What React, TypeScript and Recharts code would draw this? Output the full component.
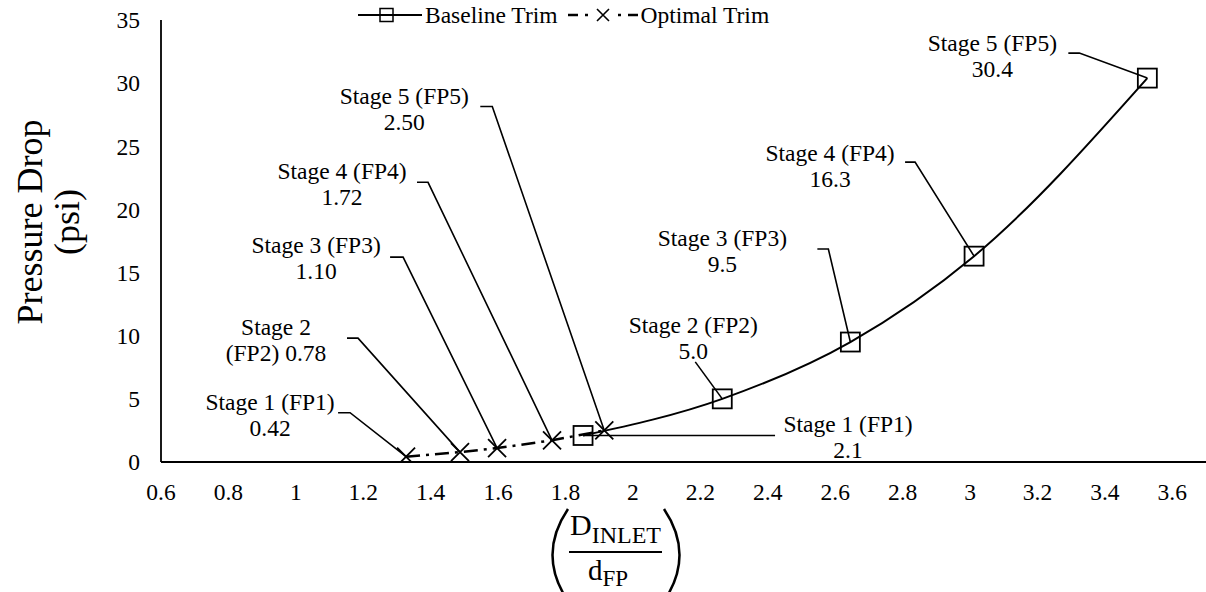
import React from 'react';
import { LineChart, Line, XAxis, YAxis, Legend, LabelList } from 'recharts';

const FONT = '"Liberation Serif", "Times New Roman", serif';

const seriesNames = ['Baseline Trim', 'Optimal Trim'];
const stageNames = ['Stage 1 (FP1)', 'Stage 2 (FP2)', 'Stage 3 (FP3)', 'Stage 4 (FP4)', 'Stage 5 (FP5)'];
const baselineRatio = [1.852, 2.265, 2.645, 3.012, 3.526];
const baselineDrop = [2.1, 5.0, 9.5, 16.3, 30.4];
const optimalRatio = [1.327, 1.487, 1.597, 1.76, 1.915];
const optimalDrop = [0.42, 0.78, 1.1, 1.72, 2.5];
const xTicks = [0.6, 0.8, 1, 1.2, 1.4, 1.6, 1.8, 2, 2.2, 2.4, 2.6, 2.8, 3, 3.2, 3.4, 3.6];
const yTicks = [0, 5, 10, 15, 20, 25, 30, 35];

const baselineData = baselineRatio.map((x, i) => ({ x, y: baselineDrop[i] }));
const optimalData = optimalRatio.map((x, i) => ({ x, y: optimalDrop[i] }));

// callout placement, pixels from the point: text centre, leader start, elbow x
const baselineCallouts = [
  { tx: 265, ty: -12, lx: 192, ly: 0, ex: 192 },
  { tx: -29, ty: -74, lx: -27, ly: -37, ex: -27 },
  { tx: -128, ty: -104, lx: -33, ly: -93, ex: -22 },
  { tx: -144, ty: -103, lx: -69, ly: -94, ex: -59 },
  { tx: -155, ty: -35, lx: -79, ly: -25, ex: -68 },
];
const optimalCallouts = [
  { tx: -136, ty: -55, lx: -68, ly: -44, ex: -56 },
  { tx: -184, ty: -125, lx: -113, ly: -114, ex: -102 },
  { tx: -181, ty: -203, lx: -107, ly: -191, ex: -94 },
  { tx: -210, ty: -270, lx: -135, ly: -258, ex: -124 },
  { tx: -200, ty: -335, lx: -124, ly: -324, ex: -112 },
];

const baselineLines = (i: number) => [stageNames[i], baselineDrop[i].toFixed(1)];
const optimalLines = (i: number) => {
  const v = optimalDrop[i].toFixed(2);
  if (i === 1) {
    const [a, b] = stageNames[i].split(' (');
    return [a, `(${b} ${v}`];
  }
  return [stageNames[i], v];
};

const makeCallout = (layout: any[], values: number[], lines: (i: number) => string[]) => (props: any) => {
  const x = props.x ?? props.viewBox?.x;
  const y = props.y ?? props.viewBox?.y;
  const index = props.index ?? values.indexOf(props.value);
  const c = layout[index];
  if (!c || x == null || y == null) return null;
  const ls = lines(index);
  return (
    <g key={`co-${index}`}>
      <polyline
        points={`${x + c.lx},${y + c.ly} ${x + c.ex},${y + c.ly} ${x},${y}`}
        fill="none"
        stroke="#000"
        strokeWidth={1.6}
      />
      <text x={x + c.tx} y={y + c.ty} textAnchor="middle" fontFamily={FONT} fontSize={23.5} fill="#000">
        {ls.map((t, k) => (
          <tspan key={k} x={x + c.tx} dy={k === 0 ? '0.35em' : 26}>
            {t}
          </tspan>
        ))}
      </text>
    </g>
  );
};

const SquareDot = (props: any) => {
  const { cx, cy, index } = props;
  return (
    <rect key={`sq-${index}`} x={cx - 9.5} y={cy - 9.5} width={19} height={19} fill="none" stroke="#000" strokeWidth={1.8} />
  );
};

const CrossDot = (props: any) => {
  const { cx, cy, index } = props;
  const s = 9;
  return (
    <path
      key={`cr-${index}`}
      d={`M${cx - s},${cy - s}L${cx + s},${cy + s}M${cx - s},${cy + s}L${cx + s},${cy - s}`}
      stroke="#000"
      strokeWidth={1.8}
      fill="none"
    />
  );
};

const YTitle = () => {
  const cy = 222;
  return (
    <g fontFamily={FONT} fill="#000" fontSize={36}>
      <text transform={`rotate(-90 29 ${cy})`} x={29} y={cy} dy="0.35em" textAnchor="middle">
        Pressure Drop
      </text>
      <text transform={`rotate(-90 66 ${cy})`} x={66} y={cy} dy="0.35em" textAnchor="middle">
        (psi)
      </text>
    </g>
  );
};

const XTitle = () => (
  <g fontFamily={FONT} fill="#000">
    <path d="M 568 509 Q 537 555 568 601" fill="none" stroke="#000" strokeWidth={2.5} />
    <text x={570} y={535} fontSize={30}>
      D<tspan fontSize={24} dy={8}>INLET</tspan>
    </text>
    <line x1={569} y1={552} x2={662} y2={552} stroke="#000" strokeWidth={2} />
    <text x={588} y={580} fontSize={29}>
      d<tspan fontSize={23} dy={6}>FP</tspan>
    </text>
    <path d="M 664 509 Q 695 555 664 601" fill="none" stroke="#000" strokeWidth={2.5} />
  </g>
);

const LegendContent = () => (
  <div
    style={{
      display: 'flex',
      alignItems: 'center',
      fontFamily: FONT,
      fontSize: 23.5,
      color: '#000',
      lineHeight: '30px',
      whiteSpace: 'nowrap',
    }}
  >
    <svg width={64} height={30}>
      <line x1={0} y1={15} x2={64} y2={15} stroke="#000" strokeWidth={1.8} />
      <rect x={22} y={8.5} width={13} height={13} fill="none" stroke="#000" strokeWidth={1.5} />
    </svg>
    <span style={{ marginLeft: 3 }}>{seriesNames[0]}</span>
    <svg width={70} height={30} style={{ marginLeft: 10 }}>
      <line x1={0} y1={15} x2={10} y2={15} stroke="#000" strokeWidth={2.5} />
      <line x1={17} y1={15} x2={20} y2={15} stroke="#000" strokeWidth={2.5} />
      <path d="M29,9L41,21M29,21L41,9" stroke="#000" strokeWidth={1.6} />
      <line x1={50} y1={15} x2={53} y2={15} stroke="#000" strokeWidth={2.5} />
      <line x1={60} y1={15} x2={70} y2={15} stroke="#000" strokeWidth={2.5} />
    </svg>
    <span style={{ marginLeft: 3 }}>{seriesNames[1]}</span>
  </div>
);

const tickFmt = (v: number) => String(Number(v.toFixed(1)));

export default function App() {
  return (
    <div style={{ position: 'absolute', left: 0, top: 0, width: 1206, height: 592, background: '#fff' }}>
      <LineChart width={1206} height={592} margin={{ top: 20, right: 0, bottom: 0, left: 0 }}>
        <XAxis
          type="number"
          dataKey="x"
          domain={[0.6, 3.7]}
          ticks={xTicks}
          interval={0}
          allowDataOverflow
          tickFormatter={tickFmt}
          tickLine={false}
          tickSize={0}
          tickMargin={21}
          height={130}
          axisLine={{ stroke: '#000', strokeWidth: 1.8 }}
          tick={{ fill: '#000', fontSize: 23.5, fontFamily: FONT }}
          label={<XTitle />}
        />
        <YAxis
          type="number"
          dataKey="y"
          domain={[0, 35]}
          ticks={yTicks}
          interval={0}
          allowDataOverflow
          tickLine={false}
          tickSize={0}
          tickMargin={21}
          width={161}
          axisLine={{ stroke: '#000', strokeWidth: 1.8 }}
          tick={{ fill: '#000', fontSize: 23.5, fontFamily: FONT }}
          label={<YTitle />}
        />
        <Legend
          layout="horizontal"
          verticalAlign="middle"
          align="center"
          wrapperStyle={{ top: 0, left: 358, width: 'auto' }}
          content={<LegendContent />}
        />
        <Line
          name={seriesNames[0]}
          data={baselineData}
          dataKey="y"
          type="monotone"
          stroke="#000"
          strokeWidth={2}
          dot={SquareDot}
          activeDot={false}
          isAnimationActive={false}
        >
          <LabelList dataKey="y" content={makeCallout(baselineCallouts, baselineDrop, baselineLines)} />
        </Line>
        <Line
          name={seriesNames[1]}
          data={optimalData}
          dataKey="y"
          type="linear"
          stroke="#000"
          strokeWidth={2.5}
          strokeDasharray="14 6 3 6"
          dot={CrossDot}
          activeDot={false}
          isAnimationActive={false}
        >
          <LabelList dataKey="y" content={makeCallout(optimalCallouts, optimalDrop, optimalLines)} />
        </Line>
      </LineChart>
    </div>
  );
}
